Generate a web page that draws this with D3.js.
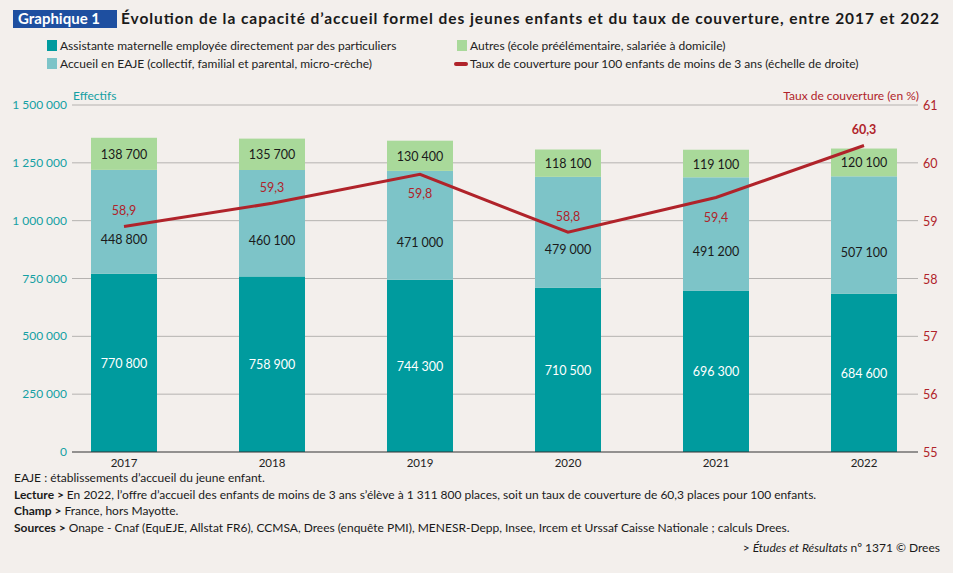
<!DOCTYPE html>
<html>
<head>
<meta charset="utf-8">
<script src="https://cdn.jsdelivr.net/npm/d3@7"></script>
<style>
  body { margin: 0; background: #f3efec; }
  svg { font-family: Lato, "Open Sans", sans-serif; }
</style>
</head>
<body>
<svg id="chart" width="953" height="573"></svg>
<script>
const years = ["2017", "2018", "2019", "2020", "2021", "2022"];
const assistante = [770800, 758900, 744300, 710500, 696300, 684600];
const eaje = [448800, 460100, 471000, 479000, 491200, 507100];
const autres = [138700, 135700, 130400, 118100, 119100, 120100];
const taux = [58.9, 59.3, 59.8, 58.8, 59.4, 60.3];
const leftTicks = [0, 250000, 500000, 750000, 1000000, 1250000, 1500000];
const rightTicks = [55, 56, 57, 58, 59, 60, 61];
// years where the rate label sits under the line
const labelBelow = ["2019", "2021"];

const c_teal = "#009b9e", c_light = "#7dc4c8", c_green = "#a9d99a", c_red = "#b0232a";
const c_lefttxt = "#14a0a3";

const svg = d3.select("#chart");
const fmt = v => d3.format(",")(v).replace(/,/g, "\u202f");

const x = d3.scalePoint().domain(years).range([124, 864]);
const barW = 66;
const y = d3.scaleLinear().domain([0, 1500000]).range([452, 105]);
const y2 = d3.scaleLinear().domain([55, 61]).range([452, 105]);

// title
svg.append("rect").attr("x", 13).attr("y", 10).attr("width", 104).attr("height", 18).attr("fill", "#1e4fa0");
svg.append("text").attr("x", 18).attr("y", 24).attr("fill", "#fff").attr("font-weight", "bold")
  .attr("font-size", 15).text("Graphique 1");
svg.append("text").attr("x", 121).attr("y", 24).attr("fill", "#1a1a1a").attr("font-weight", "bold")
  .attr("font-size", 15.5).attr("textLength", 818).text("Évolution de la capacité d’accueil formel des jeunes enfants et du taux de couverture, entre 2017 et 2022");

// legend
const leg = [
  {x: 47, y: 46, c: c_teal, t: "Assistante maternelle employée directement par des particuliers"},
  {x: 47, y: 64, c: c_light, t: "Accueil en EAJE (collectif, familial et parental, micro-crèche)"},
  {x: 457, y: 46, c: c_green, t: "Autres (école préélémentaire, salariée à domicile)"}
];
leg.forEach(d => {
  svg.append("rect").attr("x", d.x).attr("y", d.y - 6).attr("width", 10).attr("height", 11).attr("fill", d.c);
  svg.append("text").attr("x", d.x + 13).attr("y", d.y + 4).attr("font-size", 12).attr("fill", "#222").text(d.t);
});
svg.append("rect").attr("x", 454).attr("y", 62).attr("width", 14).attr("height", 4).attr("rx", 2).attr("fill", c_red);
svg.append("text").attr("x", 470).attr("y", 68).attr("font-size", 12).attr("fill", "#222")
  .text("Taux de couverture pour 100 enfants de moins de 3 ans (échelle de droite)");

// gridlines
svg.append("g").selectAll("line").data(leftTicks.slice(1)).enter().append("line")
  .attr("x1", 72).attr("x2", 918).attr("y1", d => y(d)).attr("y2", d => y(d))
  .attr("stroke", "#b5b2b0").attr("stroke-width", 1);

// axis labels
svg.append("g").selectAll("text").data(leftTicks).enter().append("text")
  .attr("x", 67).attr("y", d => y(d) + 4).attr("text-anchor", "end")
  .attr("font-size", 12).attr("fill", c_lefttxt).text(d => fmt(d));
svg.append("g").selectAll("text").data(rightTicks).enter().append("text")
  .attr("x", 923).attr("y", d => y2(d) + 5).attr("font-size", 12.5).attr("fill", c_red).text(d => d);
svg.append("text").attr("x", 73).attr("y", 100).attr("font-size", 12).attr("fill", c_lefttxt).text("Effectifs");
svg.append("text").attr("x", 919).attr("y", 100).attr("text-anchor", "end").attr("font-size", 12).attr("fill", c_red)
  .text("Taux de couverture (en %)");

// stacked bars
const rows = years.map((yr, i) => ({year: yr, a: assistante[i], e: eaje[i], o: autres[i]}));
const series = d3.stack().keys(["a", "e", "o"])(rows);
const colors = {a: c_teal, e: c_light, o: c_green};
const labelShift = {a: 0, e: 17, o: 0};
const labelCol = {a: "#fff", e: "#1a1a1a", o: "#1a1a1a"};

series.forEach(s => {
  const g = svg.append("g");
  g.selectAll("rect").data(s).enter().append("rect")
    .attr("x", d => x(d.data.year) - barW / 2).attr("width", barW)
    .attr("y", d => y(d[1])).attr("height", d => y(d[0]) - y(d[1]))
    .attr("fill", colors[s.key]);
  g.selectAll("text").data(s).enter().append("text")
    .attr("x", d => x(d.data.year)).attr("y", d => (y(d[0]) + y(d[1])) / 2 + 5 + labelShift[s.key])
    .attr("text-anchor", "middle").attr("font-size", 12.5).attr("fill", labelCol[s.key])
    .text(d => fmt(d.data[s.key]));
});

// zero axis
svg.append("line").attr("x1", 72).attr("x2", 918).attr("y1", y(0)).attr("y2", y(0))
  .attr("stroke", "#333").attr("stroke-width", 1.2);
svg.append("g").selectAll("text").data(years).enter().append("text")
  .attr("x", d => x(d)).attr("y", 467).attr("text-anchor", "middle").attr("font-size", 11.5)
  .attr("fill", "#222").text(d => d);

// coverage line
const line = d3.line().x((d, i) => x(years[i])).y(d => y2(d));
svg.append("path").datum(taux).attr("d", line).attr("fill", "none")
  .attr("stroke", c_red).attr("stroke-width", 3);
svg.append("g").selectAll("text").data(taux).enter().append("text")
  .attr("x", (d, i) => x(years[i]))
  .attr("y", (d, i) => labelBelow.includes(years[i]) ? y2(d) + 24 : y2(d) - 11)
  .attr("text-anchor", "middle").attr("font-size", 12.5).attr("fill", c_red)
  .attr("font-weight", (d, i) => i == taux.length - 1 ? "bold" : "normal")
  .text(d => String(d).replace(".", ","));

// notes
const notes = [
  {y: 482, b: "", t: "EAJE : établissements d’accueil du jeune enfant."},
  {y: 499, b: "Lecture > ", t: "En 2022, l’offre d’accueil des enfants de moins de 3 ans s’élève à 1\u202f311\u202f800 places, soit un taux de couverture de 60,3 places pour 100 enfants."},
  {y: 515, b: "Champ > ", t: "France, hors Mayotte."},
  {y: 532, b: "Sources > ", t: "Onape - Cnaf (EquEJE, Allstat FR6), CCMSA, Drees (enquête PMI), MENESR-Depp, Insee, Ircem et Urssaf Caisse Nationale ; calculs Drees."}
];
notes.forEach(n => {
  const t = svg.append("text").attr("x", 14).attr("y", n.y).attr("font-size", 12).attr("fill", "#1a1a1a");
  if (n.b) t.append("tspan").attr("font-weight", "bold").text(n.b);
  t.append("tspan").text(n.t);
});
const src = svg.append("text").attr("x", 940).attr("y", 552).attr("text-anchor", "end").attr("font-size", 12).attr("fill", "#1a1a1a");
src.append("tspan").text("> ");
src.append("tspan").attr("font-style", "italic").text("Études et Résultats");
src.append("tspan").text(" nº 1371 © Drees");
</script>
</body>
</html>
